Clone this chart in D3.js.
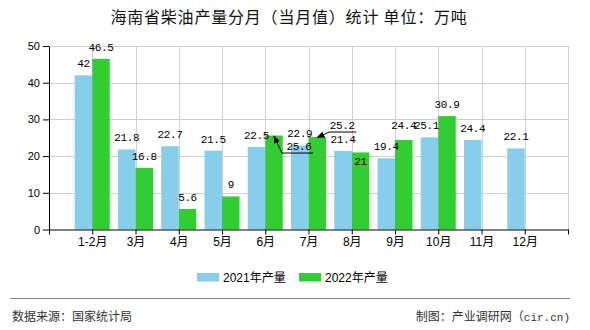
<!DOCTYPE html>
<html>
<head>
<meta charset="utf-8">
<script src="https://cdn.jsdelivr.net/npm/d3@7"></script>
<style>
  html, body { margin: 0; padding: 0; background: #fff; }
  svg { display: block; }
</style>
</head>
<body>
<svg id="chart" width="590" height="330"></svg>
<script>
// ---- data ----
const categories = ["1-2月", "3月", "4月", "5月", "6月", "7月", "8月", "9月", "10月", "11月", "12月"];
const values2021 = [42, 21.8, 22.7, 21.5, 22.5, 22.9, 21.4, 19.4, 25.1, 24.4, 22.1];
const values2022 = [46.5, 16.8, 5.6, 9, 25.6, 25.2, 21, 24.4, 30.9, null, null];
const seriesNames = ["2021年产量", "2022年产量"];
const yTicks = [0, 10, 20, 30, 40, 50];

const colors = ["#87CEEB", "#32CD32"];
const svg = d3.select("#chart");

const x = d3.scaleLinear().domain([0, categories.length + 1]).range([49, 568]);
const y = d3.scaleLinear().domain([0, 50]).range([229.5, 46]);
const barW = 17.5;

// title
svg.append("text").attr("x", 289).attr("y", 23).attr("text-anchor", "middle")
  .style("font-family", "'Noto Sans CJK SC', sans-serif").style("font-size", "16px")
  .style("letter-spacing", "0.8px")
  .attr("fill", "#111").text("海南省柴油产量分月（当月值）统计 单位：万吨");

// grid
const g = svg.append("g");
g.selectAll("line.hg").data(yTicks.filter(d => d > 0)).enter().append("line")
  .attr("x1", x(0)).attr("x2", x(categories.length + 1))
  .attr("y1", d => Math.round(y(d)) + 0.5).attr("y2", d => Math.round(y(d)) + 0.5)
  .attr("stroke", "#d0d0d0").attr("stroke-width", 1);
g.selectAll("line.vg").data(d3.range(1, categories.length + 2)).enter().append("line")
  .attr("x1", d => Math.round(x(d)) + 0.5).attr("x2", d => Math.round(x(d)) + 0.5)
  .attr("y1", y(50)).attr("y2", y(0))
  .attr("stroke", "#d0d0d0").attr("stroke-width", 1);

// bars
const series = [values2021, values2022];
series.forEach((vals, si) => {
  svg.append("g").selectAll("rect").data(vals.map((v, i) => ({v, i})).filter(d => d.v != null))
    .enter().append("rect")
    .attr("x", d => x(d.i + 1) + (si === 0 ? -barW : 0))
    .attr("width", barW)
    .attr("y", d => y(d.v))
    .attr("height", d => y(0) - y(d.v))
    .attr("fill", colors[si]);
});

// axes
const yAxis = svg.append("g").attr("transform", `translate(${x(0)},0)`)
  .call(d3.axisLeft(y).tickValues(yTicks).tickSize(6).tickPadding(3).tickSizeOuter(0));
yAxis.selectAll("text").style("font-family", "'Liberation Sans', sans-serif").style("font-size", "11px").attr("fill", "#000");
yAxis.selectAll("line,path").attr("stroke", "#000");

const xAxis = svg.append("g").attr("transform", `translate(0,${y(0)})`)
  .call(d3.axisBottom(x).tickValues(d3.range(0, categories.length + 2)).tickSize(5).tickSizeOuter(0)
    .tickFormat(d => (d >= 1 && d <= categories.length) ? categories[d - 1] : ""));
xAxis.selectAll("text").style("font-family", "'Liberation Sans','Noto Sans CJK SC', sans-serif").style("font-size", "12px").attr("fill", "#000");
xAxis.selectAll("line,path").attr("stroke", "#000");

// arrow marker
svg.append("defs").append("marker").attr("id", "arr").attr("viewBox", "0 0 10 10")
  .attr("refX", 9).attr("refY", 5).attr("markerWidth", 8).attr("markerHeight", 8)
  .attr("markerUnits", "userSpaceOnUse")
  .attr("orient", "auto")
  .append("path").attr("d", "M0,1 L10,5 L0,9 Z").attr("fill", "#000");

// value label placement tweaks (pixel offsets from default spot; leader points relative to bar top centre)
const adjust = {
  "0-8": {dx: -3, dy: 0},
  "1-4": {dx: 25, dy: 22.5, leader: [[39, 17.5], [8, 17.5]]},
  "1-5": {dx: 25, dy: 0, leader: [[39, -5], [12, -5]]},
  "1-6": {dx: 0, dy: 21},
  "1-7": {dx: 0, dy: -3}
};
const labelLayer = svg.append("g");
series.forEach((vals, si) => {
  vals.forEach((v, i) => {
    if (v == null) return;
    const cx = x(i + 1) + (si === 0 ? -barW / 2 : barW / 2);
    const top = y(v);
    const a = adjust[si + "-" + i] || {dx: 0, dy: 0};
    const lx = cx + a.dx, ly = top - 8 + a.dy;
    labelLayer.append("text").attr("x", lx).attr("y", ly).attr("text-anchor", "middle")
      .style("font-family", "'Liberation Mono', monospace").style("font-size", "11px")
      .style("letter-spacing", "-0.4px").attr("fill", "#000").text(v);
    if (a.leader) {
      const path = d3.path();
      path.moveTo(cx + a.leader[0][0], top + a.leader[0][1]);
      path.lineTo(cx + a.leader[1][0], top + a.leader[1][1]);
      path.lineTo(cx, top + 0.5);
      labelLayer.append("path").attr("d", path.toString()).attr("fill", "none")
        .attr("stroke", "#000").attr("stroke-width", 1).attr("marker-end", "url(#arr)");
    }
  });
});

// legend
const legend = svg.append("g");
const legX = [197, 299];
seriesNames.forEach((name, i) => {
  legend.append("rect").attr("x", legX[i]).attr("y", 273).attr("width", 22).attr("height", 8.5).attr("fill", colors[i]);
  legend.append("text").attr("x", legX[i] + 26).attr("y", 281.5)
    .style("font-family", "'Liberation Sans','Noto Sans CJK SC', sans-serif").style("font-size", "12px")
    .attr("fill", "#000").text(name);
});

// footer
svg.append("line").attr("x1", 10).attr("x2", 570).attr("y1", 298.5).attr("y2", 298.5).attr("stroke", "#888").attr("stroke-width", 1.2);
svg.append("text").attr("x", 12).attr("y", 321)
  .style("font-family", "'Noto Sans CJK SC', sans-serif").style("font-size", "12px").attr("fill", "#333")
  .text("数据来源：国家统计局");
const rt = svg.append("text").attr("x", 570).attr("y", 321).attr("text-anchor", "end")
  .style("font-family", "'Noto Sans CJK SC', sans-serif").style("font-size", "12px").attr("fill", "#333");
rt.append("tspan").text("制图：产业调研网（");
rt.append("tspan").style("font-family", "'Liberation Mono', monospace").style("font-size", "11px").text("cir.cn)");
</script>
</body>
</html>
